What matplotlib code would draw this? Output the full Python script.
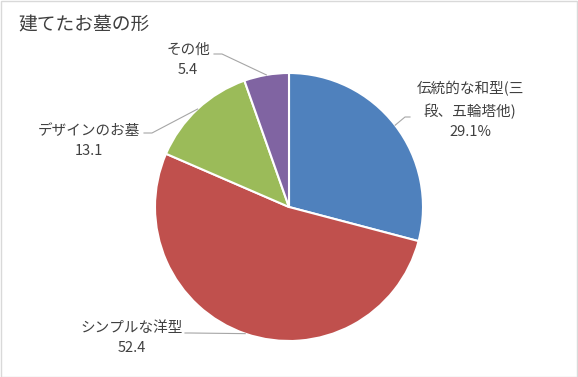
import numpy as np
import matplotlib.pyplot as plt
from matplotlib.patches import Rectangle

plt.rcParams['font.family'] = ['Noto Sans CJK JP', 'DejaVu Sans']

title = '建てたお墓の形'
categories = ['伝統的な和型(三\n段、五輪塔他)', 'シンプルな洋型', 'デザインのお墓', 'その他']
values = [29.1, 52.4, 13.1, 5.4]
value_labels = ['29.1%', '52.4', '13.1', '5.4']
colors = ['#4F81BD', '#C0504D', '#9BBB59', '#8064A2']

# label placement (pixels in the 578x377 picture)
label_pos = [(470, 110), (132, 338), (89, 141), (188, 60)]
leader_bend = [(405, 117), (190, 333), (152, 133), (222, 54)]
leader_end = [(410, 117), (185, 333), (144, 133), (214, 54)]

W, H = 578, 377
cx, cy, r = 289, 207, 134

fig = plt.figure(figsize=(W / 100, H / 100), dpi=100)
fig.patches.append(Rectangle((0.001, 0.001), 0.997, 0.996, transform=fig.transFigure,
                             fill=False, edgecolor='#d9d9d9', linewidth=1))

ax = fig.add_axes([(cx - r) / W, (H - cy - r) / H, 2 * r / W, 2 * r / H])
wedges, _ = ax.pie(values, colors=colors, startangle=90, counterclock=False, radius=1,
                   wedgeprops=dict(edgecolor='white', linewidth=1.5))
ax.set_xlim(-1, 1)
ax.set_ylim(-1, 1)
ax.set_aspect('equal')
ax.axis('off')


def to_data(px, py):
    return (px - cx) / r, (cy - py) / r


for w, cat, vl, lp, lb, le in zip(wedges, categories, value_labels, label_pos,
                                  leader_bend, leader_end):
    ang = np.deg2rad((w.theta1 + w.theta2) / 2)
    x0, y0 = np.cos(ang), np.sin(ang)
    bx, by = to_data(*lb)
    ex, ey = to_data(*le)
    ax.plot([x0, bx, ex], [y0, by, ey], color='#a6a6a6', lw=0.8, clip_on=False)
    tx, ty = to_data(*lp)
    ax.text(tx, ty, cat + '\n' + vl, ha='center', va='center', fontsize=10.5,
            color='#404040', linespacing=1.6, clip_on=False)

fig.text(18 / W, 1 - 25 / H, title, ha='left', va='center', fontsize=13.5, color='#404040')

fig.savefig('out.png', dpi=100)
